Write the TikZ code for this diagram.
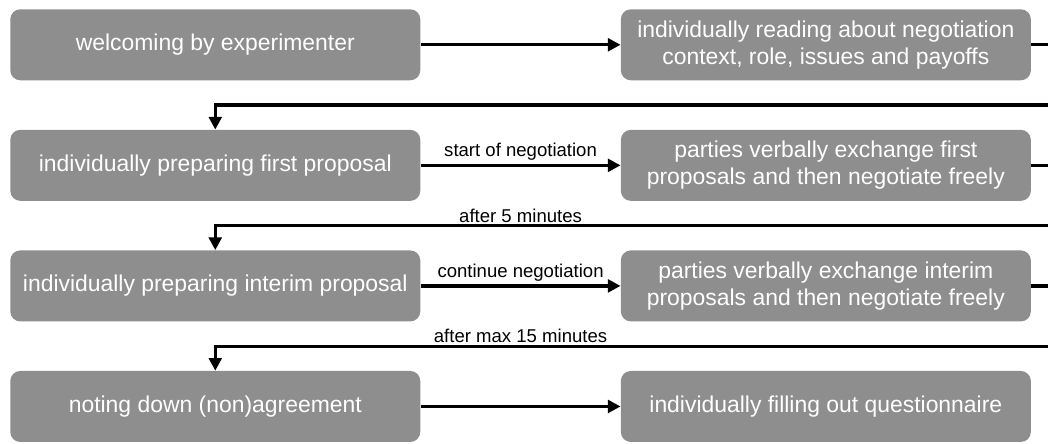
\documentclass[tikz,border=0pt]{standalone}
\usepackage{fontspec}
\setmainfont{Liberation Sans}
\usetikzlibrary{arrows.meta,positioning,calc}
\definecolor{boxgray}{RGB}{142,142,142}
\tikzset{
    %Define standard arrow tip
    >={Triangle[length=9pt,width=9pt]},
    %Define style for the stages
    stage/.style={
           rectangle,
           rounded corners=0.25cm,
           fill=boxgray,
           text=white,
           minimum width=10.25cm,
           minimum height=1.775cm,
           inner sep=0pt,
           align=center,
           font=\fontsize{16.3}{19.5}\selectfont},
    % Define arrow style
    flow/.style={
           ->,
           line width=2.4pt},
    % Define style for arrow labels
    note/.style={
           font=\fontsize{13.2}{15}\selectfont,
           inner sep=2pt}
}

\begin{document}
\begin{tikzpicture}[node distance=1.225cm and 5cm]
		\useasboundingbox (0,0) rectangle (26.2,-11.075);
		\node[stage, anchor=north west] (welcome) at (0.25,-0.225) {welcoming by experimenter};
		\node[stage, right=of welcome] (reading) {individually reading about negotiation\\context, role, issues and payoffs};
		\node[stage, below=of welcome] (firstprep) {individually preparing first proposal};
		\node[stage, right=of firstprep] (firstexch) {parties verbally exchange first\\proposals and then negotiate freely};
		\node[stage, below=of firstprep] (interimprep) {individually preparing interim proposal};
		\node[stage, right=of interimprep] (interimexch) {parties verbally exchange interim\\proposals and then negotiate freely};
		\node[stage, below=of interimprep] (noting) {noting down (non)agreement};
		\node[stage, right=of noting] (questions) {individually filling out questionnaire};
		% arrows within a row
		\draw[flow] (welcome) -- (reading);
		\draw[flow] (firstprep) -- node[note, above] {start of negotiation} (firstexch);
		\draw[flow] (interimprep) -- node[note, above] {continue negotiation} (interimexch);
		\draw[flow] (noting) -- (questions);
		% arrows back to the next row
		\coordinate (back1) at ($(reading.south)!0.5!(firstexch.north)$);
		\coordinate (back2) at ($(firstexch.south)!0.5!(interimexch.north)$);
		\coordinate (back3) at ($(interimexch.south)!0.5!(questions.north)$);
		\coordinate (gapmid) at ($(welcome.east)!0.5!(reading.west)$);
		\draw[flow] (reading.east) -- ++(1,0) |- (back1) -| (firstprep.north);
		\draw[flow] (firstexch.east) -- ++(1,0) |- (back2) -| (interimprep.north);
		\draw[flow] (interimexch.east) -- ++(1,0) |- (back3) -| (noting.north);
		\node[note, above] (after5) at (gapmid |- back2) {after 5 minutes};
		\node[note, above] (after15) at (gapmid |- back3) {after max 15 minutes};
	\end{tikzpicture}
\end{document}
